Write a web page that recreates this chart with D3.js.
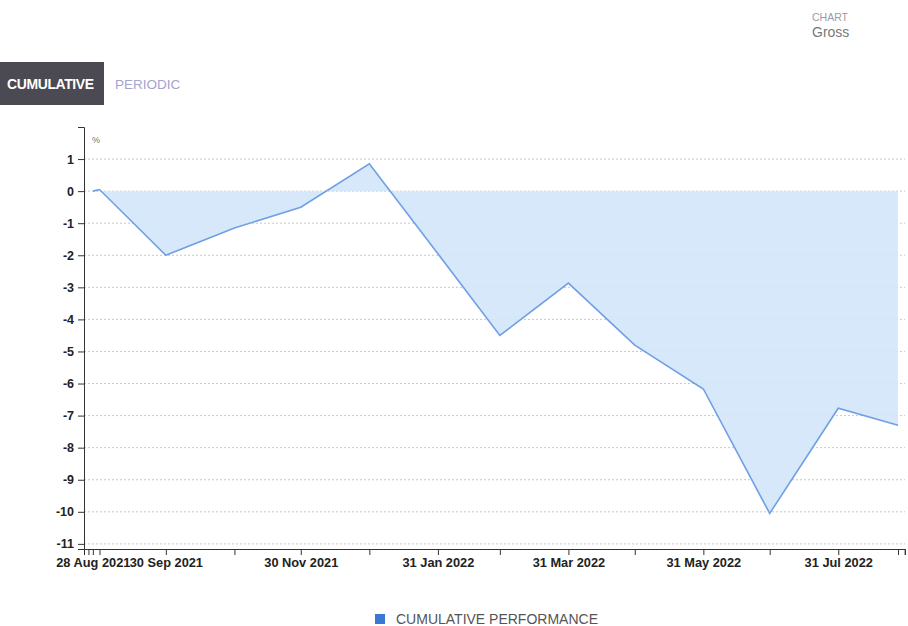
<!DOCTYPE html>
<html>
<head>
<meta charset="utf-8">
<script src="https://cdnjs.cloudflare.com/ajax/libs/d3/7.8.5/d3.min.js"></script>
<style>
  html, body { margin: 0; padding: 0; background: #fff; }
  svg { display: block; font-family: "Liberation Sans", Arial, sans-serif; }
</style>
</head>
<body>
<svg id="chart" width="908" height="626"></svg>
<script>
// ---- data ----
const dates = ["2021-08-28","2021-08-31","2021-09-30","2021-10-31","2021-11-30","2021-12-31",
               "2022-01-31","2022-02-28","2022-03-31","2022-04-30","2022-05-31","2022-06-30",
               "2022-07-31","2022-08-27"];
const values = [0.0, 0.05, -2.0, -1.15, -0.5, 0.85, -1.95, -4.5, -2.87, -4.8, -6.17, -10.05, -6.77, -7.3];
const yTicks = [1, 0, -1, -2, -3, -4, -5, -6, -7, -8, -9, -10, -11];
const labeledTicks = ["2021-08-28","2021-09-30","2021-11-30","2022-01-31","2022-03-31","2022-05-31","2022-07-31"];
const extraTicks = ["2021-08-26","2021-08-31","2021-10-31","2021-12-31","2022-02-28","2022-04-30","2022-06-30","2022-08-27","2022-08-30"];
const seriesName = "CUMULATIVE PERFORMANCE";

(function () {
const parse = d3.utcParse("%Y-%m-%d");
const fmt = d3.utcFormat("%d %b %Y");
const data = dates.map((d, i) => ({ date: parse(d), value: values[i] }));

const svg = d3.select("#chart");
const mLeft = 84, mRight = 905, mTop = 127, mBottom = 549;

const x = d3.scaleUtc()
  .domain([parse("2021-08-24"), new Date(Date.UTC(2022, 7, 30, 4))])
  .range([mLeft, mRight]);
const y = d3.scaleLinear().domain([-11.16, 2]).range([mBottom, mTop]);

// grid lines
svg.append("g").selectAll("line").data(yTicks).join("line")
  .attr("x1", mLeft).attr("x2", mRight)
  .attr("y1", d => y(d)).attr("y2", d => y(d))
  .attr("stroke", "#c8c8c8").attr("stroke-width", 1)
  .attr("stroke-dasharray", "2,2");

// area
const area = d3.area().x(d => x(d.date)).y0(y(0)).y1(d => y(d.value));
svg.append("path").datum(data)
  .attr("d", area)
  .attr("fill", "#d3e5f9").attr("fill-opacity", 0.9);

const line = d3.line().x(d => x(d.date)).y(d => y(d.value));
svg.append("path").datum(data)
  .attr("d", line)
  .attr("fill", "none").attr("stroke", "#6f9fe4").attr("stroke-width", 1.6);

// y axis
const yAxis = d3.axisLeft(y).tickValues(yTicks).tickSize(6).tickSizeOuter(6).tickPadding(4)
  .tickFormat(d => String(d));
const gy = svg.append("g").attr("transform", `translate(${mLeft},0)`).call(yAxis);
gy.selectAll("text").attr("font-size", 12.5).attr("font-weight", "bold").attr("fill", "#222");
gy.selectAll("path,line").attr("stroke", "#333");

// x axis
const allTicks = labeledTicks.concat(extraTicks).map(parse);
const labSet = new Set(labeledTicks);
const xAxis = d3.axisBottom(x).tickValues(allTicks).tickSize(6).tickSizeOuter(6).tickPadding(3)
  .tickFormat(d => labSet.has(d3.utcFormat("%Y-%m-%d")(d)) ? fmt(d) : "");
const gx = svg.append("g").attr("transform", `translate(0,${mBottom})`).call(xAxis);
gx.selectAll("text").attr("font-size", 12.8).attr("font-weight", "bold").attr("fill", "#222");
gx.selectAll("path,line").attr("stroke", "#333");

// small unit label
svg.append("text").attr("x", 92).attr("y", 143).text("%")
  .attr("font-size", 9).attr("fill", "#777");

// top-left toggle
svg.append("rect").attr("x", 0).attr("y", 62).attr("width", 104).attr("height", 43).attr("fill", "#4b4a52");
svg.append("text").attr("x", 7).attr("y", 89).text("CUMULATIVE")
  .attr("font-size", 14).attr("font-weight", "bold").attr("fill", "#fff").attr("letter-spacing", -0.4);
svg.append("text").attr("x", 115).attr("y", 89).text("PERIODIC")
  .attr("font-size", 13.5).attr("fill", "#a4a4cc");

// top-right label
svg.append("text").attr("x", 812).attr("y", 21).text("CHART")
  .attr("font-size", 10.5).attr("fill", "#9a9aaa");
svg.append("text").attr("x", 812).attr("y", 37).text("Gross")
  .attr("font-size", 14).attr("fill", "#777");

// legend
svg.append("rect").attr("x", 375).attr("y", 614).attr("width", 10).attr("height", 10).attr("fill", "#3b78d4");
svg.append("text").attr("x", 396).attr("y", 624).text(seriesName)
  .attr("font-size", 14).attr("fill", "#555");
})();
</script>
</body>
</html>
